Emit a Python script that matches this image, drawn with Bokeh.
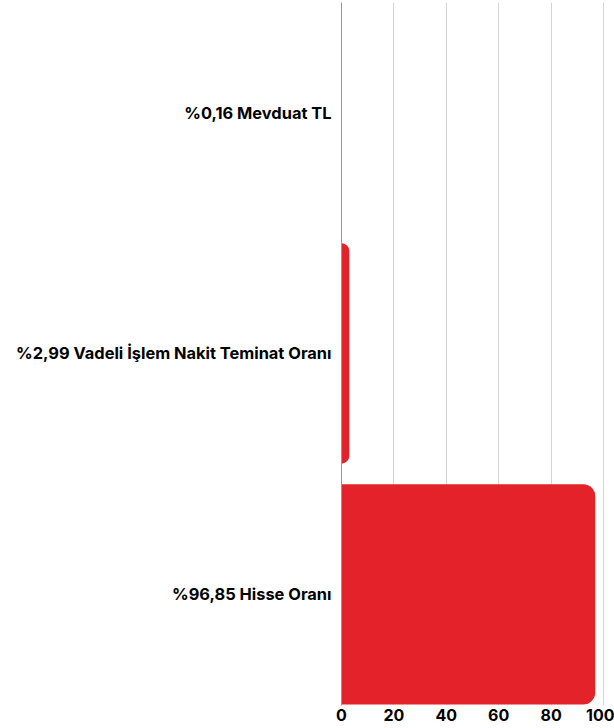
from bokeh.plotting import figure
from bokeh.models import ColumnDataSource, Range1d, FixedTicker
from bokeh.embed import file_html
from bokeh.resources import INLINE

categories = ["%96,85 Hisse Oranı", "%2,99 Vadeli İşlem Nakit Teminat Oranı", "%0,16 Mevduat TL"]
values = [96.85, 2.99, 0.16]
x_ticks = [0, 20, 40, 60, 80, 100]

ypos = list(range(len(categories)))
src = ColumnDataSource(dict(y=ypos, v=values, name=categories))

p = figure(width=614, height=728, output_backend="svg", toolbar_location=None,
           x_range=Range1d(0, 104.2), y_range=Range1d(-0.4615, 2.457),
           min_border_left=341, min_border_right=0, min_border_top=2, min_border_bottom=23)
p.outline_line_color = None
p.background_fill_color = "white"

p.hbar(y="y", left=0, right="v", height=0.915, source=src,
       fill_color="#E4222A", line_color=None, border_radius=(0, 12, 12, 0))

p.xaxis.ticker = FixedTicker(ticks=x_ticks)
p.yaxis.ticker = FixedTicker(ticks=ypos)
p.yaxis.major_label_overrides = {i: c for i, c in enumerate(categories)}

font = "Inter"
for ax in (p.xaxis[0], p.yaxis[0]):
    ax.major_label_text_font = font
    ax.major_label_text_font_style = "bold"
    ax.major_label_text_color = "#000000"
    ax.major_tick_line_color = None
    ax.minor_tick_line_color = None
    ax.major_tick_out = 0
    ax.major_tick_in = 0

p.xaxis.axis_line_color = None
p.yaxis.axis_line_color = "#999999"
p.xaxis.major_label_text_font_size = "16px"
p.yaxis.major_label_text_font_size = "16.4px"
p.yaxis.major_label_standoff = 10
p.xaxis.major_label_standoff = 3

p.xgrid.grid_line_color = "#d4d4d4"
p.xgrid.grid_line_width = 1
p.ygrid.grid_line_color = None

open("out.html", "w").write(file_html(p, INLINE))
